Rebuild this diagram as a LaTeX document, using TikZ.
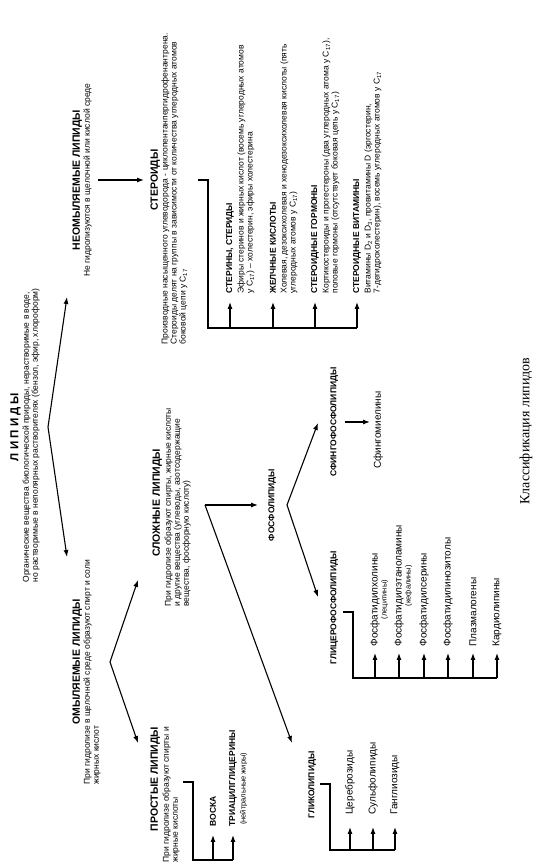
\documentclass[tikz,border=0pt]{standalone}
\usepackage{fontspec}
\setmainfont{Liberation Sans}
\newfontfamily\captionserif{Liberation Serif}
\usetikzlibrary{arrows.meta}

\begin{document}
\begin{tikzpicture}[x=1pt, y=1pt, line width=1.1pt]
	\tikzstyle{heading} = [font=\fontsize{10.5}{12}\selectfont\bfseries, inner sep=0pt, anchor=north]
	\tikzstyle{descr}   = [font=\fontsize{8.5}{9}\selectfont, inner sep=0pt, align=left, anchor=north west]
	\tikzstyle{subhead} = [font=\fontsize{8.5}{9}\selectfont\bfseries, inner sep=0pt, anchor=west]
	\tikzstyle{leaf}    = [font=\fontsize{10}{11}\selectfont, inner sep=0pt, anchor=west]
	\tikzstyle{note}    = [font=\fontsize{7.5}{8}\selectfont, inner sep=0.5pt, anchor=north]
	\tikzstyle{arr}     = [-{Latex[length=7pt, width=5pt]}]

	% the whole scheme is drawn in landscape and turned
	\begin{scope}[rotate=90, transform shape]
		\useasboundingbox (0,0) rectangle (868,-537);

		% root
		\node[heading, font=\fontsize{11.5}{13}\selectfont\bfseries] (lip) at (441,-10) {Л И П И Д Ы};
		\node[descr] (lipd) at (285,-22) {Органические вещества биологической природы, нерастворимые в воде,\\но растворимые в неполярных растворителях (бензол, эфир, хлороформ)};

		\coordinate (lipv) at (441,-48);
		\coordinate (nomylt) at (571,-67);
		\coordinate (omylt) at (311,-67);
		\foreach \to in {nomylt, omylt}
			\draw[arr] (lipv) -- (\to);

		% unsaponifiable
		\node[heading] (nomyl) at (688,-72) {НЕОМЫЛЯЕМЫЕ ЛИПИДЫ};
		\node[descr, anchor=north] (nomyld) at (688,-83) {Не гидролизуются в щелочной или кислой среде};

		\node[heading] (ster) at (688,-150) {СТЕРОИДЫ};
		\node[descr] (sterd) at (523,-161) {Производные насыщенного углеводорода - циклопентанпергидрофенантрена.\\Стероиды делят на группы в зависимости от количества углеродных атомов\\боковой цепи у C\textsubscript{17}};
		\draw[arr, shorten <=6pt, shorten >=6pt] (nomyld) -- (ster);

		\draw (688,-198) -- (688,-208) -- (540,-208) -- (540,-357);
		\foreach \n/\d/\head/\body in {
				1/230/{СТЕРИНЫ, СТЕРИДЫ}/{Эфиры стеринов и жирных кислот (восемь углеродных атомов\\у C\textsubscript{17}) – холестерин, эфиры холестерина},
				2/273/{ЖЕЛЧНЫЕ КИСЛОТЫ}/{Холевая, дезоксихолевая и хенодезоксихолевая кислоты (пять\\углеродных атомов у C\textsubscript{17})},
				3/315/{СТЕРОИДНЫЕ ГОРМОНЫ}/{Кортикостероиды и прогестероны (два углеродных атома у C\textsubscript{17}),\\половые гормоны (отсутствует боковая цепь у C\textsubscript{17})},
				4/357/{СТЕРОИДНЫЕ ВИТАМИНЫ}/{Витамины D\textsubscript{2} и D\textsubscript{3}, провитамины D (эргостерин,\\7-дегидрохолестерин), восемь углеродных атомов у C\textsubscript{17}}} {
			\coordinate (sb\n) at (540,-\d);
			\node[subhead] (s\n) at (574,-\d) {\head};
			\node[descr] (sd\n) at (574,-\d-7) {\body};
			\draw[arr, shorten >=8pt] (sb\n) -- (s\n.west);
		}

		% saponifiable
		\node[heading] (omyl) at (206,-72) {ОМЫЛЯЕМЫЕ ЛИПИДЫ};
		\node[descr] (omyld) at (83,-83) {При гидролизе в щелочной среде образуют спирт  и соли\\жирных кислот};

		\coordinate (omylv) at (206,-110);
		\coordinate (slozht) at (288,-138);
		\coordinate (prostt) at (125,-138);
		\foreach \to in {slozht, prostt}
			\draw[arr] (omylv) -- (\to);

		% simple lipids
		\node[heading] (prost) at (89,-150) {ПРОСТЫЕ ЛИПИДЫ};
		\node[descr] (prostd) at (5,-162) {При гидролизе образуют спирты и\\жирные кислоты};

		\draw (86,-183) -- (86,-193) -- (8,-193) -- (8,-233);
		\node[subhead] (vosk) at (41,-213) {ВОСКА};
		\node[subhead] (tag) at (41,-233) {ТРИАЦИЛГЛИЦЕРИНЫ};
		\node[note, anchor=north west] (tagn) at (42,-239) {(нейтральные жиры)};
		\foreach \to/\d in {vosk/213, tag/233}
			\draw[arr, shorten >=8pt] (8,-\d) -- (\to.west);

		% complex lipids
		\node[heading] (slozh) at (365,-152) {СЛОЖНЫЕ ЛИПИДЫ};
		\node[descr] (slozhd) at (261,-164) {При гидролизе образуют спирты, жирные кислоты\\и другие вещества (углеводы, азотсодержащие\\вещества, фосфорную кислоту)};

		\coordinate (slozhv) at (363,-205);
		\coordinate (glikt) at (125,-292);
		\node[subhead, anchor=north] (fosf) at (363,-268) {ФОСФОЛИПИДЫ};
		\draw[arr, shorten >=10pt] (slozhv) -- (fosf.north);
		\draw[arr] (slozhv) -- (glikt);

		\coordinate (fosfv) at (363,-287);
		\coordinate (sfingot) at (445,-318);
		\coordinate (glict) at (271,-318);
		\foreach \to in {sfingot, glict}
			\draw[arr] (fosfv) -- (\to);

		\node[subhead, anchor=north] (sfingo) at (446,-330) {СФИНГОФОСФОЛИПИДЫ};
		\node[leaf, anchor=north] (sfm) at (438,-373) {Сфингомиелины};
		\draw[arr, shorten <=6pt, shorten >=3pt] (sfingo.south) -- (sfingo.south |- sfm.north);

		\node[subhead, anchor=north] (glic) at (260,-330) {ГЛИЦЕРОФОСФОЛИПИДЫ};
		\draw (256,-343) -- (256,-353) -- (190,-353) -- (190,-497);
		\foreach \n/\d/\body in {1/375/Фосфатидилхолины, 2/399/Фосфатидилэтаноламины, 3/424/Фосфатидилсерины,
				4/448/Фосфатидилинозитолы, 5/473/Плазмалогены, 6/497/Кардиолипины} {
			\node[leaf] (g\n) at (221,-\d) {\body};
			\draw[arr, shorten >=6pt] (190,-\d) -- (g\n.west);
		}
		\node[note] (g1n) at (g1.south) {(лецитины)};
		\node[note] (g2n) at (g2.south) {(кефалины)};

		\node[subhead, anchor=north] (glik) at (83,-308) {ГЛИКОЛИПИДЫ};
		\draw (84,-320) -- (84,-330) -- (18,-330) -- (18,-395);
		\foreach \n/\d/\body in {1/350/Цереброзиды, 2/373/Сульфолипиды, 3/395/Ганглиозиды} {
			\node[leaf] (k\n) at (53,-\d) {\body};
			\draw[arr, shorten >=12pt] (18,-\d) -- (k\n.west);
		}

		% caption
		\node[font=\captionserif\fontsize{14}{16}\selectfont, inner sep=0pt, anchor=north] (capt) at (437,-519) {Классификация липидов};
	\end{scope}
\end{tikzpicture}
\end{document}
